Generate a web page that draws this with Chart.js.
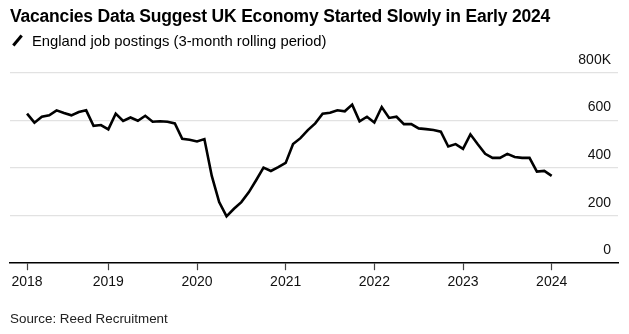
<!DOCTYPE html>
<html>
<head>
<meta charset="utf-8">
<script src="https://cdn.jsdelivr.net/npm/chart.js@4/dist/chart.umd.min.js"></script>
<style>
  body { margin: 0; background: #fff; font-family: "Liberation Sans", Arial, sans-serif; color: #000; }
  #wrap { position: relative; width: 629px; height: 334px; overflow: hidden; }
  #chart { position: absolute; left: 0; top: 0; }
  .title { position: absolute; left: 10px; top: 6px; font-size: 17.5px; font-weight: bold; white-space: nowrap; letter-spacing: -0.2px; }
  .legend { position: absolute; left: 10px; top: 33px; font-size: 14.8px; white-space: nowrap; }
  .legend .swatch { display: inline-block; width: 13px; height: 3px; background: #000; transform: rotate(-50deg); vertical-align: middle; margin: 0 8px 3px 1px; }
  .source { position: absolute; left: 10px; top: 311px; font-size: 13.4px; color: #222; white-space: nowrap; }
</style>
</head>
<body>
<div id="wrap">
  <canvas id="chart" width="629" height="334"></canvas>
  <div class="title">Vacancies Data Suggest UK Economy Started Slowly in Early 2024</div>
  <div class="legend"><span class="swatch"></span>England job postings (3-month rolling period)</div>
  <div class="source">Source: Reed Recruitment</div>
</div>
<script>
// Monthly periods, Feb 2018 .. Jan 2024
const periods = [
  '2018-02', '2018-03', '2018-04', '2018-05', '2018-06', '2018-07', '2018-08', '2018-09', '2018-10', '2018-11', '2018-12',
  '2019-01', '2019-02', '2019-03', '2019-04', '2019-05', '2019-06', '2019-07', '2019-08', '2019-09', '2019-10', '2019-11', '2019-12',
  '2020-01', '2020-02', '2020-03', '2020-04', '2020-05', '2020-06', '2020-07', '2020-08', '2020-09', '2020-10', '2020-11', '2020-12',
  '2021-01', '2021-02', '2021-03', '2021-04', '2021-05', '2021-06', '2021-07', '2021-08', '2021-09', '2021-10', '2021-11', '2021-12',
  '2022-01', '2022-02', '2022-03', '2022-04', '2022-05', '2022-06', '2022-07', '2022-08', '2022-09', '2022-10', '2022-11', '2022-12',
  '2023-01', '2023-02', '2023-03', '2023-04', '2023-05', '2023-06', '2023-07', '2023-08', '2023-09', '2023-10', '2023-11', '2023-12',
  '2024-01'
];

// job postings, thousands
const postings = [
  629, 591, 616, 622, 643, 632, 622, 636, 643, 578, 581,
  563, 629, 598, 613, 599, 620, 595, 597, 595, 588, 523, 519,
  512, 522, 367, 257, 197, 229, 257, 298, 349, 402, 388, 404,
  422, 501, 526, 560, 588, 629, 633, 643, 639, 667, 597, 616,
  592, 657, 611, 616, 585, 585, 567, 564, 560, 553, 491, 501,
  481, 542, 500, 460, 443, 443, 460, 447, 443, 443, 385, 388,
  367
];

const yearTicks = [2019, 2020, 2021, 2022, 2023, 2024];
const yTicks = [0, 200, 400, 600, 800];

function toYear(p) {
  const [y, m] = p.split('-').map(Number);
  return y + (m - 1) / 12;
}

const points = periods.map((p, i) => ({ x: toYear(p), y: postings[i] }));
const firstX = points[0].x;

new Chart(document.getElementById('chart'), {
  type: 'line',
  data: {
    datasets: [{
      label: 'England job postings (3-month rolling period)',
      data: points,
      borderColor: '#000',
      borderWidth: 2.6,
      pointRadius: 0,
      tension: 0,
      fill: false
    }]
  },
  options: {
    responsive: false,
    animation: false,
    devicePixelRatio: 1,
    layout: { padding: { left: 10, right: 11, top: 73, bottom: 39 } },
    plugins: { legend: { display: false }, tooltip: { enabled: false } },
    scales: {
      x: {
        type: 'linear',
        min: 2017.891,
        max: 2024.748,
        afterBuildTicks: scale => {
          scale.ticks = [firstX, ...yearTicks].map(v => ({ value: v }));
        },
        grid: { drawOnChartArea: false, drawTicks: true, tickLength: 7, tickColor: '#444', tickWidth: 1.2 },
        border: { display: true, color: '#000', width: 1.5 },
        ticks: {
          autoSkip: false,
          maxRotation: 0,
          padding: 4,
          color: '#111',
          font: { family: '"Liberation Sans", Arial, sans-serif', size: 14 },
          callback: v => String(Math.floor(v))
        }
      },
      y: {
        position: 'right',
        min: 0,
        max: 800,
        afterBuildTicks: scale => {
          scale.ticks = yTicks.map(v => ({ value: v }));
        },
        grid: {
          drawTicks: false,
          color: c => (c.tick && c.tick.value === 0) ? 'rgba(0,0,0,0)' : '#e2e2e2',
          lineWidth: 1.3
        },
        border: { display: false },
        ticks: {
          mirror: true,
          padding: -7,
          labelOffset: -13,
          color: '#111',
          font: { family: '"Liberation Sans", Arial, sans-serif', size: 14 },
          callback: v => v === 800 ? '800K' : String(v)
        }
      }
    }
  }
});
</script>
</body>
</html>
